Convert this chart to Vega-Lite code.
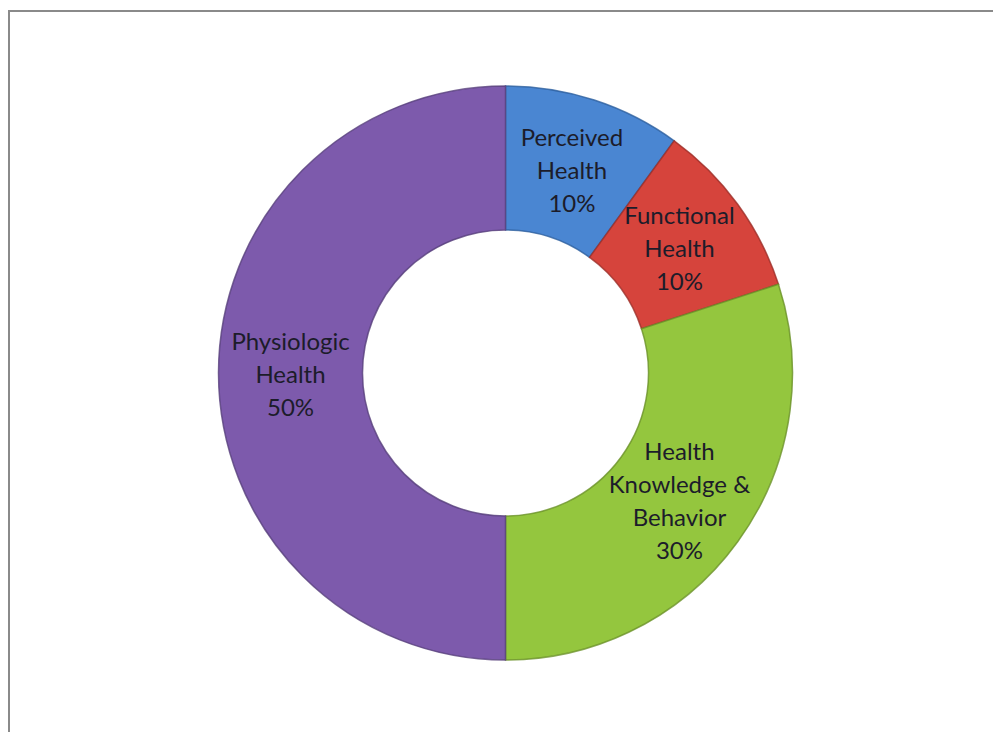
{
  "$schema": "https://vega.github.io/schema/vega-lite/v6.json",
  "autosize": "none",
  "width": 993,
  "height": 724,
  "padding": {"left": 9, "top": 11, "right": 0, "bottom": 0},
  "background": "white",
  "view": {"stroke": "#8a8a8a", "strokeWidth": 2},
  "config": {"view": {"stroke": "#8a8a8a", "strokeWidth": 2}, "text": {"lineBreak": "\n"}},
  "data": {
    "values": [
      {"category": "Perceived Health", "value": 10, "order": 1, "label": "Perceived\nHealth\n10%"},
      {"category": "Functional Health", "value": 10, "order": 2, "label": "Functional\nHealth\n10%"},
      {"category": "Health Knowledge & Behavior", "value": 30, "order": 3, "label": "Health\nKnowledge &\nBehavior\n30%"},
      {"category": "Physiologic Health", "value": 50, "order": 4, "label": "Physiologic\nHealth\n50%"}
    ]
  },
  "encoding": {
    "theta": {"field": "value", "type": "quantitative", "stack": true},
    "order": {"field": "order", "type": "quantitative"}
  },
  "layer": [
    {
      "mark": {"type": "arc", "outerRadius": 287, "innerRadius": 143, "strokeWidth": 1.5, "strokeOpacity": 0.8},
      "encoding": {
        "color": {
          "field": "category", "type": "nominal", "legend": null,
          "scale": {
            "domain": ["Perceived Health", "Functional Health", "Health Knowledge & Behavior", "Physiologic Health"],
            "range": ["#4a86d2", "#d6443c", "#94c63e", "#7d5aac"]
          }
        },
        "stroke": {
          "field": "category", "type": "nominal", "legend": null,
          "scale": {
            "domain": ["Perceived Health", "Functional Health", "Health Knowledge & Behavior", "Physiologic Health"],
            "range": ["#2d5f9e", "#9c2e28", "#6a9128", "#58407c"]
          }
        }
      }
    },
    {
      "mark": {"type": "text", "radius": 215, "font": "Lato", "fontSize": 24, "lineHeight": 33, "align": "center", "baseline": "middle", "dy": -30},
      "encoding": {
        "text": {"condition": {"test": "datum.order == 3", "value": ""}, "field": "label", "type": "nominal"},
        "color": {"value": "#1c1c2a"}
      }
    },
    {
      "mark": {"type": "text", "radius": 215, "font": "Lato", "fontSize": 24, "lineHeight": 33, "align": "center", "baseline": "middle", "dy": -46.5},
      "encoding": {
        "text": {"condition": {"test": "datum.order != 3", "value": ""}, "field": "label", "type": "nominal"},
        "color": {"value": "#1c1c2a"}
      }
    }
  ]
}
